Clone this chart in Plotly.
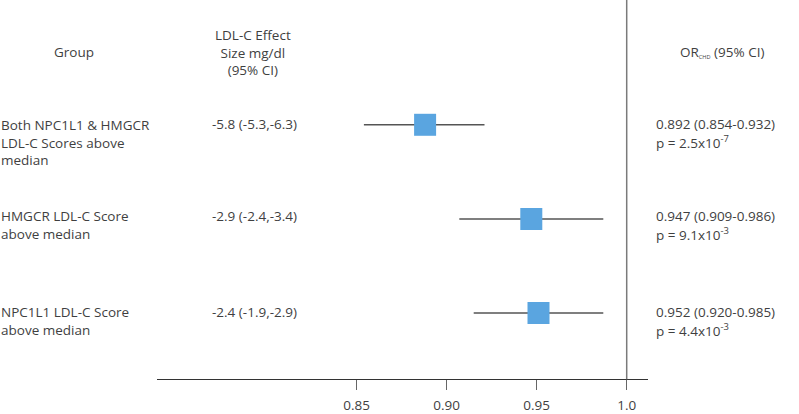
import plotly.graph_objects as go

# ---- data ----
groups = [
    "Both NPC1L1 & HMGCR<br>LDL-C Scores above<br>median",
    "HMGCR LDL-C Score<br>above median",
    "NPC1L1 LDL-C Score<br>above median",
]
effect_sizes = ["-5.8 (-5.3,-6.3)", "-2.9 (-2.4,-3.4)", "-2.4 (-1.9,-2.9)"]
or_point = [0.888, 0.947, 0.951]      # marker positions as drawn
ci_low = [0.854, 0.907, 0.915]
ci_high = [0.921, 0.987, 0.987]
or_labels = ["0.892 (0.854-0.932)", "0.947 (0.909-0.986)", "0.952 (0.920-0.985)"]
p_labels = ["p = 2.5x10<sup>-7</sup>", "p = 9.1x10<sup>-3</sup>", "p = 4.4x10<sup>-3</sup>"]
row_pos = [3, 2, 1]
tick_vals = [0.85, 0.90, 0.95, 1.0]
tick_text = ["0.85", "0.90", "0.95", "1.0"]

W, H = 799, 414
FONT = "Open Sans"
TXT = "#3f3f3f"
FS = 13.5

x0_px, x1_px = 156.7, 648.3
axis_y_px = 384
px_per_unit = 1800.0
xr = [0.85 - (356.7 - x0_px) / px_per_unit, 0.85 + (x1_px - 356.7) / px_per_unit]
ydom0 = (H - axis_y_px) / H

fig = go.Figure()
fig.add_trace(go.Scatter(
    x=or_point, y=row_pos, mode="markers",
    marker=dict(symbol="square", size=22, color="#5aa5e0", line=dict(width=0)),
    error_x=dict(type="data", symmetric=False,
                 array=[h - p for h, p in zip(ci_high, or_point)],
                 arrayminus=[p - l for l, p in zip(ci_low, or_point)],
                 width=0, thickness=1.5, color="#555555"),
    showlegend=False, hoverinfo="skip",
))

# reference line at 1.0
fig.add_shape(type="line", xref="x", yref="paper", x0=1.0, x1=1.0, y0=ydom0, y1=1,
              line=dict(color="#7a7a7a", width=1.5))

ann = []
def px(x):
    return x / W
def py(y):
    return 1 - y / H

# headers
ann.append(dict(text="Group", x=px(74), y=py(53), xanchor="center", yanchor="middle"))
ann.append(dict(text="LDL-C Effect<br>Size mg/dl<br>(95% CI)", x=px(253), y=py(53),
                xanchor="center", yanchor="middle"))
ann.append(dict(text="OR<span style='font-size:8px'><sub>CHD</sub></span> (95% CI)",
                x=px(679), y=py(53), xanchor="left", yanchor="middle"))

row_px = [126, 219, 316]
for g, e, o, p, ry in zip(groups, effect_sizes, or_labels, p_labels, row_px):
    ann.append(dict(text=g, x=px(0), y=py(ry - 10), xanchor="left", yanchor="top", align="left"))
    ann.append(dict(text=e, x=px(254), y=py(ry), xanchor="center", yanchor="middle"))
    ann.append(dict(text=o, x=px(655), y=py(ry), xanchor="left", yanchor="middle"))
    ann.append(dict(text=p, x=px(655), y=py(ry + 18), xanchor="left", yanchor="middle"))

for a in ann:
    a.update(xref="paper", yref="paper", showarrow=False,
             font=dict(family=FONT, size=FS, color=TXT), borderpad=0)

fig.update_layout(
    width=W, height=H,
    margin=dict(l=0, r=0, t=0, b=0),
    paper_bgcolor="white", plot_bgcolor="white",
    annotations=ann,
    xaxis=dict(domain=[x0_px / W, x1_px / W], range=xr, showgrid=False, zeroline=False,
               showline=True, linecolor="#333333", linewidth=1,
               ticks="outside", ticklen=10, tickcolor="#666666", tickwidth=1,
               tickvals=tick_vals, ticktext=tick_text, ticklabelstandoff=3,
               tickfont=dict(family=FONT, size=FS, color=TXT)),
    yaxis=dict(domain=[ydom0, 1], range=[0.295, 4.326], visible=False),
)

fig.write_html("out.html", config={"displayModeBar": False},
               post_script="document.body.style.margin='0';document.body.style.overflow='hidden';")
